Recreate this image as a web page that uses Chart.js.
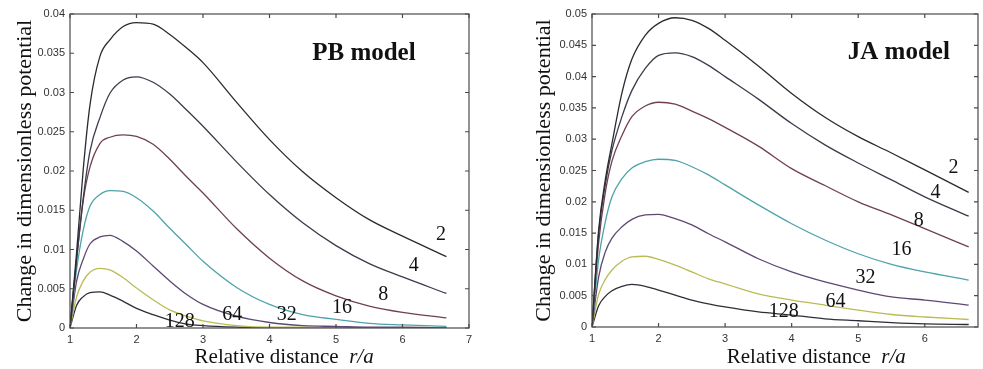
<!DOCTYPE html>
<html>
<head>
<meta charset="utf-8">
<script src="https://cdn.jsdelivr.net/npm/chart.js@4.4.0/dist/chart.umd.min.js"></script>
<style>
  body { margin: 0; background: #fff; width: 983px; height: 369px; overflow: hidden; position: relative; }
  .panel { position: absolute; top: 0; height: 369px; }
</style>
</head>
<body>
<div class="panel" style="left:0;width:490px"><canvas id="pbChart" width="490" height="369"></canvas></div>
<div class="panel" style="left:490px;width:493px"><canvas id="jaChart" width="493" height="369"></canvas></div>
<script>
// === DỮ LIỆU ===
// khoảng cách tương đối r/a
const distance = [1, 1.1, 1.2, 1.3, 1.45, 1.6, 1.8, 2.0, 2.25, 2.5, 2.75, 3.0, 3.5, 4.0, 4.5, 5.0, 5.5, 6.0, 6.66];
const seriesNames = ['2', '4', '8', '16', '32', '64', '128'];

// PB model
const pb2   = [0, 0.0097, 0.0203, 0.0284, 0.0346, 0.0367, 0.0384, 0.0389, 0.0387, 0.0374, 0.0357, 0.0338, 0.0288, 0.024, 0.0199, 0.0166, 0.0138, 0.0117, 0.0091];
const pb4   = [0, 0.0088, 0.0166, 0.0225, 0.0268, 0.0299, 0.0316, 0.032, 0.0313, 0.0298, 0.0278, 0.0257, 0.0212, 0.017, 0.0134, 0.0105, 0.0082, 0.0065, 0.0044];
const pb8   = [0, 0.0088, 0.0163, 0.0205, 0.0235, 0.0243, 0.0246, 0.0244, 0.0234, 0.0215, 0.0193, 0.0172, 0.0127, 0.0089, 0.006, 0.0041, 0.0028, 0.002, 0.0013];
const pb16  = [0, 0.0075, 0.0125, 0.0155, 0.017, 0.0175, 0.0174, 0.0166, 0.0149, 0.0127, 0.0106, 0.0085, 0.0052, 0.003, 0.0017, 0.0011, 0.0006, 0.0004, 0.0002];
const pb32  = [0, 0.006, 0.0088, 0.0107, 0.0116, 0.0118, 0.011, 0.0098, 0.0079, 0.006, 0.0043, 0.003, 0.0015, 0.0007, 0.0003, 0.0002, 0.0001, 0.0001, 0];
const pb64  = [0, 0.004, 0.006, 0.0071, 0.0076, 0.0074, 0.0064, 0.0051, 0.0036, 0.0023, 0.0015, 0.0009, 0.0003, 0.0001, 0.0001, 0, 0, 0, 0];
const pb128 = [0, 0.0029, 0.004, 0.0045, 0.0046, 0.0042, 0.0034, 0.0025, 0.0017, 0.001, 0.0005, 0.0003, 0.0001, 0, 0, 0, 0, 0, 0];

// JA model
const ja2   = [0, 0.0155, 0.0235, 0.0293, 0.0374, 0.0428, 0.0466, 0.0485, 0.0494, 0.049, 0.0477, 0.0458, 0.0417, 0.0373, 0.0335, 0.0304, 0.0278, 0.0251, 0.0215];
const ja4   = [0, 0.015, 0.0228, 0.0282, 0.0336, 0.0378, 0.0413, 0.0434, 0.0438, 0.0432, 0.0418, 0.04, 0.0364, 0.0325, 0.0291, 0.0262, 0.0235, 0.0208, 0.0177];
const ja8   = [0, 0.0135, 0.0215, 0.0265, 0.0306, 0.0336, 0.0353, 0.0359, 0.0356, 0.0345, 0.0333, 0.0319, 0.0289, 0.0253, 0.0226, 0.02, 0.0179, 0.0157, 0.0128];
const ja16  = [0, 0.0108, 0.0168, 0.0208, 0.0237, 0.0254, 0.0264, 0.0268, 0.0266, 0.0256, 0.0243, 0.0227, 0.0195, 0.0165, 0.0139, 0.0117, 0.01, 0.0088, 0.0075];
const ja32  = [0, 0.008, 0.012, 0.0142, 0.016, 0.0172, 0.0179, 0.018, 0.0173, 0.0163, 0.0149, 0.0136, 0.0109, 0.0088, 0.0072, 0.0059, 0.0048, 0.0043, 0.0035];
const ja64  = [0, 0.0052, 0.0076, 0.0091, 0.0105, 0.0112, 0.0113, 0.0108, 0.0099, 0.0088, 0.0077, 0.0069, 0.0053, 0.0043, 0.0035, 0.0027, 0.002, 0.0016, 0.0012];
const ja128 = [0, 0.0034, 0.0049, 0.0058, 0.0065, 0.0068, 0.0065, 0.0059, 0.0051, 0.0043, 0.0037, 0.0032, 0.0024, 0.0019, 0.0013, 0.001, 0.0007, 0.0005, 0.0004];

// vạch chia trục
const xTicksPB = [1, 2, 3, 4, 5, 6, 7];
const xTicksJA = [1, 2, 3, 4, 5, 6];
const yTicksPB = [0, 0.005, 0.01, 0.015, 0.02, 0.025, 0.03, 0.035, 0.04];
const yTicksJA = [0, 0.005, 0.01, 0.015, 0.02, 0.025, 0.03, 0.035, 0.04, 0.045, 0.05];

const lineColors = ['#2a2a32', '#3b3b4a', '#70404f', '#4ea3aa', '#5c4872', '#b9bc55', '#2e2e38'];

// Plugin vẽ khung, vạch chia hướng vào trong, nhãn đường cong và tiêu đề trục x
const framePlugin = {
    id: 'frame',
    afterDraw(chart, args, opts) {
        const { ctx, chartArea: a, scales: { x, y } } = chart;
        ctx.save();
        ctx.strokeStyle = '#4a4a4a';
        ctx.lineWidth = 1.2;
        ctx.strokeRect(a.left, a.top, a.right - a.left, a.bottom - a.top);
        ctx.beginPath();
        x.ticks.forEach(t => {
            const px = x.getPixelForValue(t.value);
            ctx.moveTo(px, a.bottom); ctx.lineTo(px, a.bottom - 4);
            ctx.moveTo(px, a.top); ctx.lineTo(px, a.top + 4);
        });
        y.ticks.forEach(t => {
            const py = y.getPixelForValue(t.value);
            ctx.moveTo(a.left, py); ctx.lineTo(a.left + 4, py);
            ctx.moveTo(a.right, py); ctx.lineTo(a.right - 4, py);
        });
        ctx.stroke();

        ctx.fillStyle = '#111';
        ctx.textAlign = 'center';
        ctx.textBaseline = 'middle';
        ctx.font = '20px "Liberation Serif"';
        opts.labels.forEach((p, i) => {
            ctx.fillText(seriesNames[i], x.getPixelForValue(p[0]), y.getPixelForValue(p[1]));
        });
        ctx.font = 'bold 25px "Liberation Serif"';
        ctx.fillText(opts.model, x.getPixelForValue(opts.modelAt[0]), y.getPixelForValue(opts.modelAt[1]));

        // tiêu đề trục x: "Relative distance  r/a" (r/a in nghiêng)
        const t1 = 'Relative distance  ', t2 = 'r/a';
        ctx.font = '21px "Liberation Serif"';
        const w1 = ctx.measureText(t1).width;
        ctx.font = 'italic 21px "Liberation Serif"';
        const w2 = ctx.measureText(t2).width;
        const start = x.getPixelForValue(opts.xTitleAt) - (w1 + w2) / 2;
        ctx.textAlign = 'left';
        ctx.textBaseline = 'alphabetic';
        ctx.font = '21px "Liberation Serif"';
        ctx.fillText(t1, start, 363);
        ctx.font = 'italic 21px "Liberation Serif"';
        ctx.fillText(t2, start + w1, 363);
        ctx.restore();
    }
};

function makeChart(id, series, cfg) {
    const ctx = document.getElementById(id).getContext('2d');
    return new Chart(ctx, {
        type: 'line',
        data: {
            datasets: series.map((s, i) => ({
                label: seriesNames[i],
                data: distance.map((d, k) => ({ x: d, y: s[k] })),
                borderColor: lineColors[i],
                borderWidth: 1.3,
                pointRadius: 0,
                fill: false,
                cubicInterpolationMode: 'monotone'
            }))
        },
        options: {
            responsive: false,
            animation: false,
            layout: { padding: { top: 14, right: cfg.padRight, left: 0, bottom: 0 } },
            plugins: {
                legend: { display: false },
                tooltip: { enabled: false },
                frame: cfg.frame
            },
            scales: {
                x: {
                    type: 'linear',
                    min: 1,
                    max: cfg.xMax,
                    afterBuildTicks: s => { s.ticks = cfg.xTicks.map(v => ({ value: v })); },
                    afterFit: s => { s.height = cfg.xHeight; },
                    grid: { display: false, drawTicks: false },
                    border: { display: false },
                    ticks: { padding: 5, color: '#333', font: { family: 'Liberation Sans', size: 11 } }
                },
                y: {
                    min: 0,
                    max: cfg.yMax,
                    afterBuildTicks: s => { s.ticks = cfg.yTicks.map(v => ({ value: v })); },
                    afterFit: s => { s.width = cfg.yWidth; },
                    grid: { display: false, drawTicks: false },
                    border: { display: false },
                    ticks: {
                        padding: 5,
                        color: '#333',
                        font: { family: 'Liberation Sans', size: 11 },
                        callback: v => String(+v.toFixed(3))
                    },
                    title: {
                        display: true,
                        text: 'Change in dimensionless potential',
                        color: '#111',
                        font: { family: 'Liberation Serif', size: 22 },
                        padding: { top: cfg.yTitlePad, bottom: 0 }
                    }
                }
            }
        },
        plugins: [framePlugin]
    });
}

// Khởi tạo
makeChart('pbChart', [pb2, pb4, pb8, pb16, pb32, pb64, pb128], {
    xMax: 7, yMax: 0.04, xTicks: xTicksPB, yTicks: yTicksPB,
    padRight: 21, xHeight: 41, yWidth: 70, yTitlePad: 12,
    frame: {
        model: 'PB model', modelAt: [5.42, 0.035], xTitleAt: 4.22,
        labels: [[6.58, 0.0119], [6.17, 0.0079], [5.71, 0.0042], [5.09, 0.0026], [4.26, 0.0017], [3.44, 0.0017], [2.65, 0.0008]]
    }
});

makeChart('jaChart', [ja2, ja4, ja8, ja16, ja32, ja64, ja128], {
    xMax: 6.8, yMax: 0.05, xTicks: xTicksJA, yTicks: yTicksJA,
    padRight: 5, xHeight: 42, yWidth: 102, yTitlePad: 41,
    frame: {
        model: 'JA model', modelAt: [5.61, 0.0438], xTitleAt: 4.37,
        labels: [[6.43, 0.0255], [6.16, 0.0215], [5.91, 0.0169], [5.65, 0.0124], [5.11, 0.0078], [4.66, 0.0041], [3.88, 0.0024]]
    }
});
</script>
</body>
</html>
